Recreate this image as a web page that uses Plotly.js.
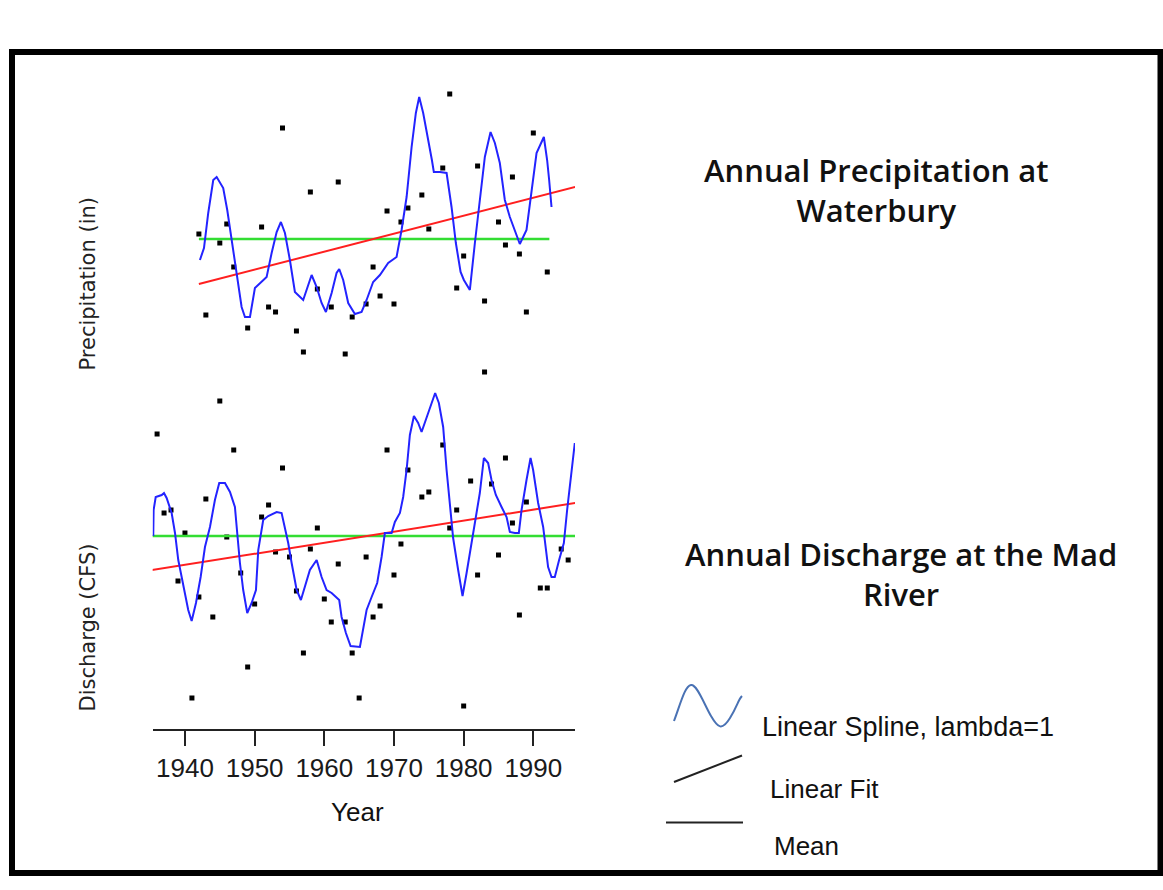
<!DOCTYPE html>
<html>
<head>
<meta charset="utf-8">
<script src="https://cdn.plot.ly/plotly-3.0.1.min.js"></script>
<style>
  html, body { margin: 0; padding: 0; background: #fff; }
  #chart { width: 1163px; height: 890px; }
</style>
</head>
<body>
<div id="chart"></div>
<script>
// Annual precipitation at Waterbury (inches)
const precipYears = [1942,1943,1945,1946,1947,1949,1951,1952,1953,1954,1956,1957,1958,1959,1961,1962,1963,1964,1966,1967,1968,1969,1970,1971,1972,1974,1975,1977,1978,1979,1980,1982,1983,1985,1986,1987,1988,1989,1990,1992];
const precipValues = [44.5,36.4,43.6,45.5,41.2,35.1,45.2,37.2,36.7,55.1,34.8,32.7,48.7,39.0,37.2,49.7,32.5,36.2,37.5,41.2,38.3,46.8,37.5,45.7,47.1,48.4,45.0,51.1,58.5,39.1,42.3,51.3,37.8,45.7,43.4,50.2,42.5,36.7,54.6,40.7];

// Smoothing spline (lambda = 1) through the precipitation series
const precipSplineYears = [1942.15,1942.73,1943.34,1944.06,1944.55,1945.49,1946.07,1946.70,1947.42,1948.13,1948.61,1949.33,1950.04,1951.00,1951.72,1952.44,1953.16,1953.77,1954.35,1955.06,1955.78,1956.97,1957.46,1958.18,1958.90,1959.61,1960.23,1961.05,1961.76,1962.14,1962.71,1963.43,1964.39,1965.35,1966.07,1967.01,1967.98,1969.17,1970.37,1971.09,1971.81,1972.53,1973.14,1973.62,1974.19,1974.76,1975.44,1975.72,1976.59,1977.55,1978.26,1978.88,1979.56,1980.03,1980.89,1981.61,1982.32,1983.04,1983.86,1984.48,1985.19,1985.91,1986.63,1987.35,1988.06,1989.02,1989.74,1990.46,1991.51,1991.98,1992.27,1992.61];
const precipSplineValues = [41.9,43.1,46.6,49.9,50.2,49.1,46.9,43.9,40.2,37.2,36.2,36.2,39.1,39.7,40.2,42.6,44.7,45.7,44.6,41.9,38.7,37.9,38.9,40.4,39.2,37.6,36.7,38.6,40.6,41.0,39.9,37.6,36.5,36.7,37.9,39.7,40.4,41.6,42.2,44.9,48.2,53.2,56.6,58.2,56.6,54.6,51.9,50.7,50.7,50.6,47.2,43.6,40.7,39.9,38.9,43.6,47.9,52.2,54.7,53.6,51.6,47.9,46.2,44.9,43.5,44.9,48.9,52.6,54.2,51.9,49.9,47.2];

// Linear fit and mean for precipitation
const precipFitYears = [1942, 1996];
const precipFitValues = [39.5, 49.2];
const precipMeanYears = [1942, 1992.3];
const precipMeanValues = [44.0, 44.0];

// Annual discharge of the Mad River (CFS)
const dischargeYears = [1936,1937,1938,1939,1940,1941,1942,1943,1944,1945,1946,1947,1948,1949,1950,1951,1952,1953,1954,1955,1956,1957,1958,1959,1960,1961,1962,1963,1964,1965,1966,1967,1968,1969,1970,1971,1972,1974,1975,1977,1978,1979,1980,1981,1982,1983,1984,1985,1986,1987,1988,1989,1991,1992,1994,1995];
const dischargeValues = [402,323,326,255,303,138,239,337,219,435,299,386,263,169,232,319,331,284,368,279,245,183,287,308,237,214,272,214,183,138,279,219,230,386,261,292,366,339,344,391,308,326,130,355,261,464,352,281,378,313,221,334,248,248,287,276];

// Smoothing spline (lambda = 1) through the discharge series
const dischargeSplineYears = [1935.45,1935.5,1935.80,1936.66,1936.99,1937.37,1938.09,1938.57,1939.04,1939.76,1940.47,1940.96,1941.58,1942.25,1942.87,1943.59,1944.30,1944.92,1945.74,1946.46,1947.17,1947.50,1947.89,1948.36,1948.94,1949.57,1950.19,1950.52,1951.23,1951.95,1953.16,1953.87,1954.35,1954.82,1955.31,1956.03,1956.64,1957.22,1957.93,1958.90,1959.61,1960.33,1961.05,1962.14,1962.48,1963.10,1963.77,1965.11,1965.49,1966.07,1966.79,1967.59,1968.22,1968.69,1969.66,1970.13,1970.85,1971.32,1971.81,1972.28,1972.86,1973.47,1973.96,1974.68,1975.39,1975.91,1976.44,1977.06,1977.55,1978.02,1978.49,1979.21,1979.84,1980.42,1981.13,1981.85,1982.32,1982.90,1983.51,1984.00,1984.62,1985.44,1986.16,1986.63,1987.35,1987.92,1988.31,1989.02,1989.60,1989.97,1990.69,1991.41,1992.12,1992.61,1993.08,1993.70,1994.38,1994.85,1995.48,1995.95];
const dischargeSplineValues = [300,326,339,341,343,338,323,303,276,249,226,215,233,259,289,309,336,353,353,344,329,303,273,246,223,233,246,286,316,320,324,323,309,293,273,246,236,249,266,276,259,246,243,236,219,203,190,189,203,226,239,253,279,303,303,314,323,339,366,401,420,413,404,418,433,443,433,409,366,329,298,266,240,263,293,319,343,378,373,356,341,329,319,304,303,303,326,356,378,366,333,309,269,259,259,276,293,326,366,393];

// Linear fit and mean for discharge
const dischargeFitYears = [1935, 1996];
const dischargeFitValues = [265.6, 333.0];
const dischargeMeanYears = [1935, 1996];
const dischargeMeanValues = [300, 300];

// Axis ticks
const yearTicks = [1940, 1950, 1960, 1970, 1980, 1990];
const yearTickLabels = ['1940', '1950', '1960', '1970', '1980', '1990'];

// Figure geometry helpers (pixel -> paper fraction)
const W = 1163, H = 890;
const fx = p => p / W;
const fy = p => 1 - p / H;

const BLUE = '#2323ff', RED = '#ff1f1f', GREEN = '#33dd33';
const dotStyle = { symbol: 'square', size: 5, color: '#000' };

const traces = [
  // precipitation panel (top)
  { x: precipYears, y: precipValues, xaxis: 'x', yaxis: 'y2', mode: 'markers', marker: dotStyle, hoverinfo: 'x+y' },
  { x: precipMeanYears, y: precipMeanValues, xaxis: 'x', yaxis: 'y2', mode: 'lines', line: { color: GREEN, width: 2.5 } },
  { x: precipFitYears, y: precipFitValues, xaxis: 'x', yaxis: 'y2', mode: 'lines', line: { color: RED, width: 2 } },
  { x: precipSplineYears, y: precipSplineValues, xaxis: 'x', yaxis: 'y2', mode: 'lines', line: { color: BLUE, width: 2 } },
  // discharge panel (bottom)
  { x: dischargeYears, y: dischargeValues, xaxis: 'x', yaxis: 'y', mode: 'markers', marker: dotStyle, hoverinfo: 'x+y' },
  { x: dischargeMeanYears, y: dischargeMeanValues, xaxis: 'x', yaxis: 'y', mode: 'lines', line: { color: GREEN, width: 2.5 } },
  { x: dischargeFitYears, y: dischargeFitValues, xaxis: 'x', yaxis: 'y', mode: 'lines', line: { color: RED, width: 2 } },
  { x: dischargeSplineYears, y: dischargeSplineValues, xaxis: 'x', yaxis: 'y', mode: 'lines', line: { color: BLUE, width: 2 } }
];

const hiddenY = { showline: false, showticklabels: false, showgrid: false, zeroline: false, ticks: '' };

const wavePath = 'M ' + fx(674) + ',' + fy(721) +
  ' C ' + fx(681) + ',' + fy(702) + ' ' + fx(685) + ',' + fy(686) + ' ' + fx(691) + ',' + fy(685) +
  ' S ' + fx(704) + ',' + fy(704) + ' ' + fx(711) + ',' + fy(716) +
  ' S ' + fx(722) + ',' + fy(731) + ' ' + fx(730) + ',' + fy(718) +
  ' S ' + fx(738) + ',' + fy(700) + ' ' + fx(742) + ',' + fy(696);

const sansTitle = { family: 'Open Sans, sans-serif', size: 31, color: '#111', weight: 600 };
const legendFont = { family: 'Liberation Sans, Arial, sans-serif', size: 26, color: '#111' };
const axisTitleFont = { family: 'DejaVu Sans, sans-serif', size: 21, color: '#222' };

const layout = {
  width: W, height: H,
  margin: { l: 0, r: 0, t: 0, b: 0, pad: 0 },
  paper_bgcolor: '#fff', plot_bgcolor: '#fff',
  showlegend: false,
  xaxis: {
    domain: [fx(152.7), fx(575)],
    range: [1935.37, 1995.98],
    anchor: 'y',
    showgrid: false, zeroline: false,
    showline: true, linecolor: '#222', linewidth: 2,
    ticks: 'outside', ticklen: 15, tickwidth: 2, tickcolor: '#222',
    tickmode: 'array', tickvals: yearTicks, ticktext: yearTickLabels,
    tickfont: { family: 'Liberation Sans, Arial, sans-serif', size: 26, color: '#1a1a1a' }
  },
  yaxis: Object.assign({ domain: [fy(729), fy(368)], range: [107, 468], anchor: 'x' }, hiddenY),
  yaxis2: Object.assign({ domain: [fy(366), fy(85)], range: [31.3, 59.4], anchor: 'x' }, hiddenY),
  shapes: [
    // outer frame
    { type: 'rect', xref: 'paper', yref: 'paper', x0: fx(12), x1: fx(1160.5), y0: fy(873), y1: fy(52),
      line: { color: '#000', width: 6 }, fillcolor: 'rgba(0,0,0,0)' },
    // legend glyphs
    { type: 'path', xref: 'paper', yref: 'paper', path: wavePath, line: { color: '#4a72b4', width: 2 } },
    { type: 'line', xref: 'paper', yref: 'paper', x0: fx(674), y0: fy(782), x1: fx(742), y1: fy(755.5), line: { color: '#222', width: 2 } },
    { type: 'line', xref: 'paper', yref: 'paper', x0: fx(666), y0: fy(822.5), x1: fx(743), y1: fy(822.5), line: { color: '#222', width: 2 } }
  ],
  annotations: [
    { text: 'Annual Precipitation at<br>Waterbury', xref: 'paper', yref: 'paper', x: fx(876), y: fy(190),
      xanchor: 'center', yanchor: 'middle', showarrow: false, font: sansTitle, align: 'center' },
    { text: 'Annual Discharge at the Mad<br>River', xref: 'paper', yref: 'paper', x: fx(901), y: fy(574),
      xanchor: 'center', yanchor: 'middle', showarrow: false, font: sansTitle, align: 'center' },
    { text: 'Precipitation (in)', xref: 'paper', yref: 'paper', x: fx(87), y: fy(284.5), textangle: -90,
      xanchor: 'center', yanchor: 'middle', showarrow: false, font: axisTitleFont },
    { text: 'Discharge (CFS)', xref: 'paper', yref: 'paper', x: fx(87), y: fy(627.5), textangle: -90,
      xanchor: 'center', yanchor: 'middle', showarrow: false, font: axisTitleFont },
    { text: 'Year', xref: 'paper', yref: 'paper', x: fx(357.5), y: fy(812),
      xanchor: 'center', yanchor: 'middle', showarrow: false, font: legendFont },
    { text: 'Linear Spline, lambda=1', xref: 'paper', yref: 'paper', x: fx(760), y: fy(727),
      xanchor: 'left', yanchor: 'middle', showarrow: false, font: Object.assign({}, legendFont, { size: 27 }) },
    { text: 'Linear Fit', xref: 'paper', yref: 'paper', x: fx(768), y: fy(789),
      xanchor: 'left', yanchor: 'middle', showarrow: false, font: legendFont },
    { text: 'Mean', xref: 'paper', yref: 'paper', x: fx(772), y: fy(846),
      xanchor: 'left', yanchor: 'middle', showarrow: false, font: legendFont }
  ]
};

Plotly.newPlot('chart', traces, layout, { displayModeBar: false, staticPlot: true });
</script>
</body>
</html>
